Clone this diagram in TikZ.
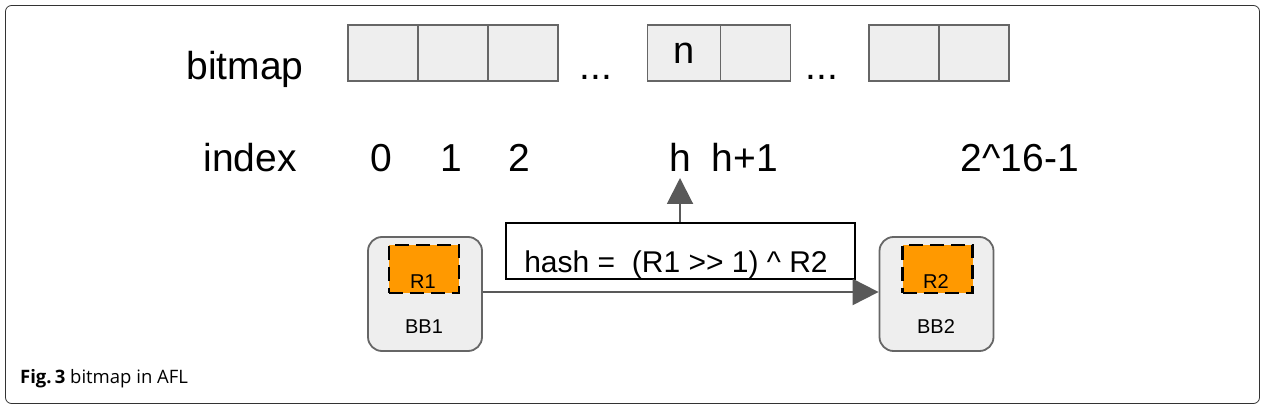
\documentclass[tikz,border=0pt]{standalone}
\usepackage{fontspec}
\setmainfont{Liberation Sans}
\newfontfamily\capfont{Open Sans}
\usetikzlibrary{arrows.meta}
\definecolor{cellfill}{HTML}{EEEEEE}
\definecolor{cellline}{HTML}{666666}
\definecolor{arrowgray}{HTML}{595959}
\definecolor{orng}{HTML}{FF9900}
\tikzset{
  cell/.style={draw=cellline,fill=cellfill,line width=1.8pt,minimum width=70pt,minimum height=56pt,inner sep=0pt,outer sep=0pt},
  bigtxt/.style={font=\fontsize{39}{41}\selectfont,inner sep=0pt},
  bbbox/.style={draw=cellline,fill=cellfill,line width=1.8pt,rounded corners=14pt,minimum width=114pt,minimum height=114pt,inner sep=0pt},
  regbox/.style={draw=black,fill=orng,line width=2.6pt,dash pattern=on 14pt off 7pt,minimum width=70pt,minimum height=48pt,inner sep=0pt},
  smalltxt/.style={font=\fontsize{20}{22}\selectfont,inner sep=0pt},
  arr/.style={draw=arrowgray,line width=2pt,-{Triangle[length=26pt,width=26pt]}},
}
\begin{document}
\begin{tikzpicture}[x=1pt,y=-1pt]
\useasboundingbox (0,0) rectangle (1265,411);
\node[draw=black!80,line width=0.8pt,rounded corners=6pt,minimum width=1254pt,minimum height=398pt,inner sep=0pt] (frame) at (632.5,204.5) {};
% bitmap
\node[bigtxt,anchor=base] (lbitmap) at (245,80) {bitmap};
\node[cell] (c0) at (383,53) {};
\node[cell] (c1) at (453,53) {};
\node[cell] (c2) at (523,53) {};
\node[bigtxt,anchor=base] (d1) at (596,80) {...};
\node[cell,minimum width=73pt] (ch) at (684,53) {\fontsize{38}{40}\selectfont n};
\node[cell] (ch1) at (755.5,53) {};
\node[bigtxt,anchor=base] (d2) at (822,80) {...};
\node[cell] (cl0) at (904,53) {};
\node[cell] (cl1) at (974,53) {};
% index
\node[bigtxt,anchor=base] (lindex) at (250,172) {index};
\node[bigtxt,anchor=base] (i0) at (381,172) {0};
\node[bigtxt,anchor=base] (i1) at (451,172) {1};
\node[bigtxt,anchor=base] (i2) at (519,172) {2};
\node[bigtxt,anchor=base] (ih) at (680,172) {h};
\node[bigtxt,anchor=base] (ih1) at (745,172) {h+1};
\node[bigtxt,anchor=base] (il) at (1020,172) {2\^{}16-1};
% hash box
\node[draw=black,line width=2.5pt,minimum width=349pt,minimum height=56pt,inner sep=0pt] (hash) at (680.5,251) {};
\node[font=\fontsize{30}{32}\selectfont,anchor=base,inner sep=0pt] (htxt) at (676,273) {hash =\ \ (R1 >{}> 1) \^{} R2};
\coordinate (tip) at (680,178);
\draw[arr] (hash.north -| tip) -- (tip);
% BBs
\node[bbbox] (bb1) at (425,294) {};
\node[regbox] (r1) at (424,269) {};
\node[smalltxt,anchor=base] (r1t) at (423,289) {R1};
\node[smalltxt,anchor=base] (bb1t) at (424,334) {BB1};
\node[bbbox] (bb2) at (936.5,294) {};
\node[regbox] (r2) at (937.5,269) {};
\node[smalltxt,anchor=base] (r2t) at (936,289) {R2};
\node[smalltxt,anchor=base] (bb2t) at (936,334) {BB2};
\draw[arr] (bb1.east |- 0,292) -- (bb2.west |- 0,292);
% caption
\node[anchor=base west,inner sep=0pt,font=\capfont\fontsize{18.5}{20}\selectfont] (cap) at (20,383) {\textbf{Fig.\,3} bitmap in AFL};
\end{tikzpicture}
\end{document}
